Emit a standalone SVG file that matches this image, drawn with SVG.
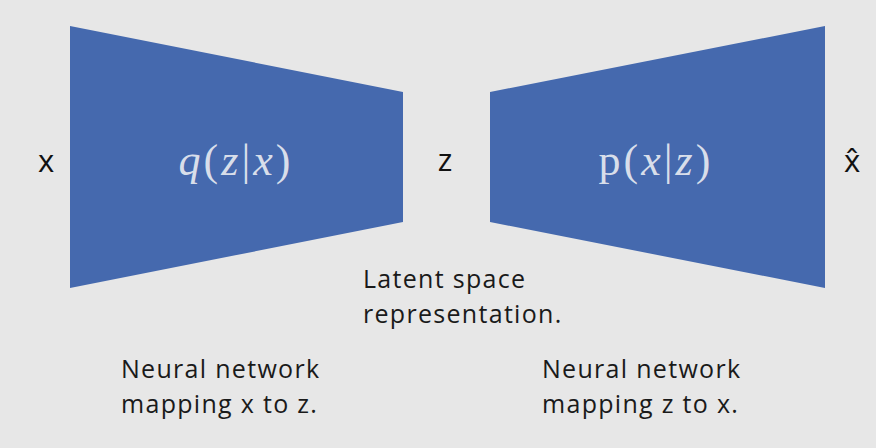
<svg xmlns="http://www.w3.org/2000/svg" width="876" height="448" viewBox="0 0 876 448">
<style>
.bg{fill:#e7e7e7}
.shape{fill:#4569ae}
.lbl{font-family:"Open Sans","Liberation Sans",sans-serif;font-size:25px;letter-spacing:1.3px;fill:#1a1a1a}
.var{font-family:"Open Sans","Liberation Sans",sans-serif;font-size:31px;fill:#111}
.math{font-family:"Liberation Serif","DejaVu Serif",serif;font-size:44px;letter-spacing:3px;fill:#d8deea}
.it{font-style:italic}
</style>
<rect class="bg" x="0" y="0" width="876" height="448"/>
<g id="encoder">
<polygon class="shape" points="70,26 403,92 403,222 70,288"/>
<text class="math" x="236" y="175" text-anchor="middle"><tspan class="it">q</tspan>(<tspan class="it">z</tspan>|<tspan class="it">x</tspan>)</text>
</g>
<g id="decoder">
<polygon class="shape" points="490,92 825,26 825,288 490,222"/>
<text class="math" x="656" y="175" text-anchor="middle">p(<tspan class="it">x</tspan>|<tspan class="it">z</tspan>)</text>
</g>
<g id="input"><text class="var" x="46" y="172" text-anchor="middle">x</text></g>
<g id="latent"><text class="var" x="445" y="171" text-anchor="middle">z</text></g>
<g id="output"><text class="var" x="852" y="172" text-anchor="middle">x̂</text></g>
<g id="labels">
<text class="lbl" x="363" y="288">Latent space</text>
<text class="lbl" x="363" y="323">representation.</text>
<text class="lbl" x="121" y="378">Neural network</text>
<text class="lbl" x="121" y="413">mapping x to z.</text>
<text class="lbl" x="542" y="378">Neural network</text>
<text class="lbl" x="542" y="413">mapping z to x.</text>
</g>
<g id="connectors"></g>
</svg>
